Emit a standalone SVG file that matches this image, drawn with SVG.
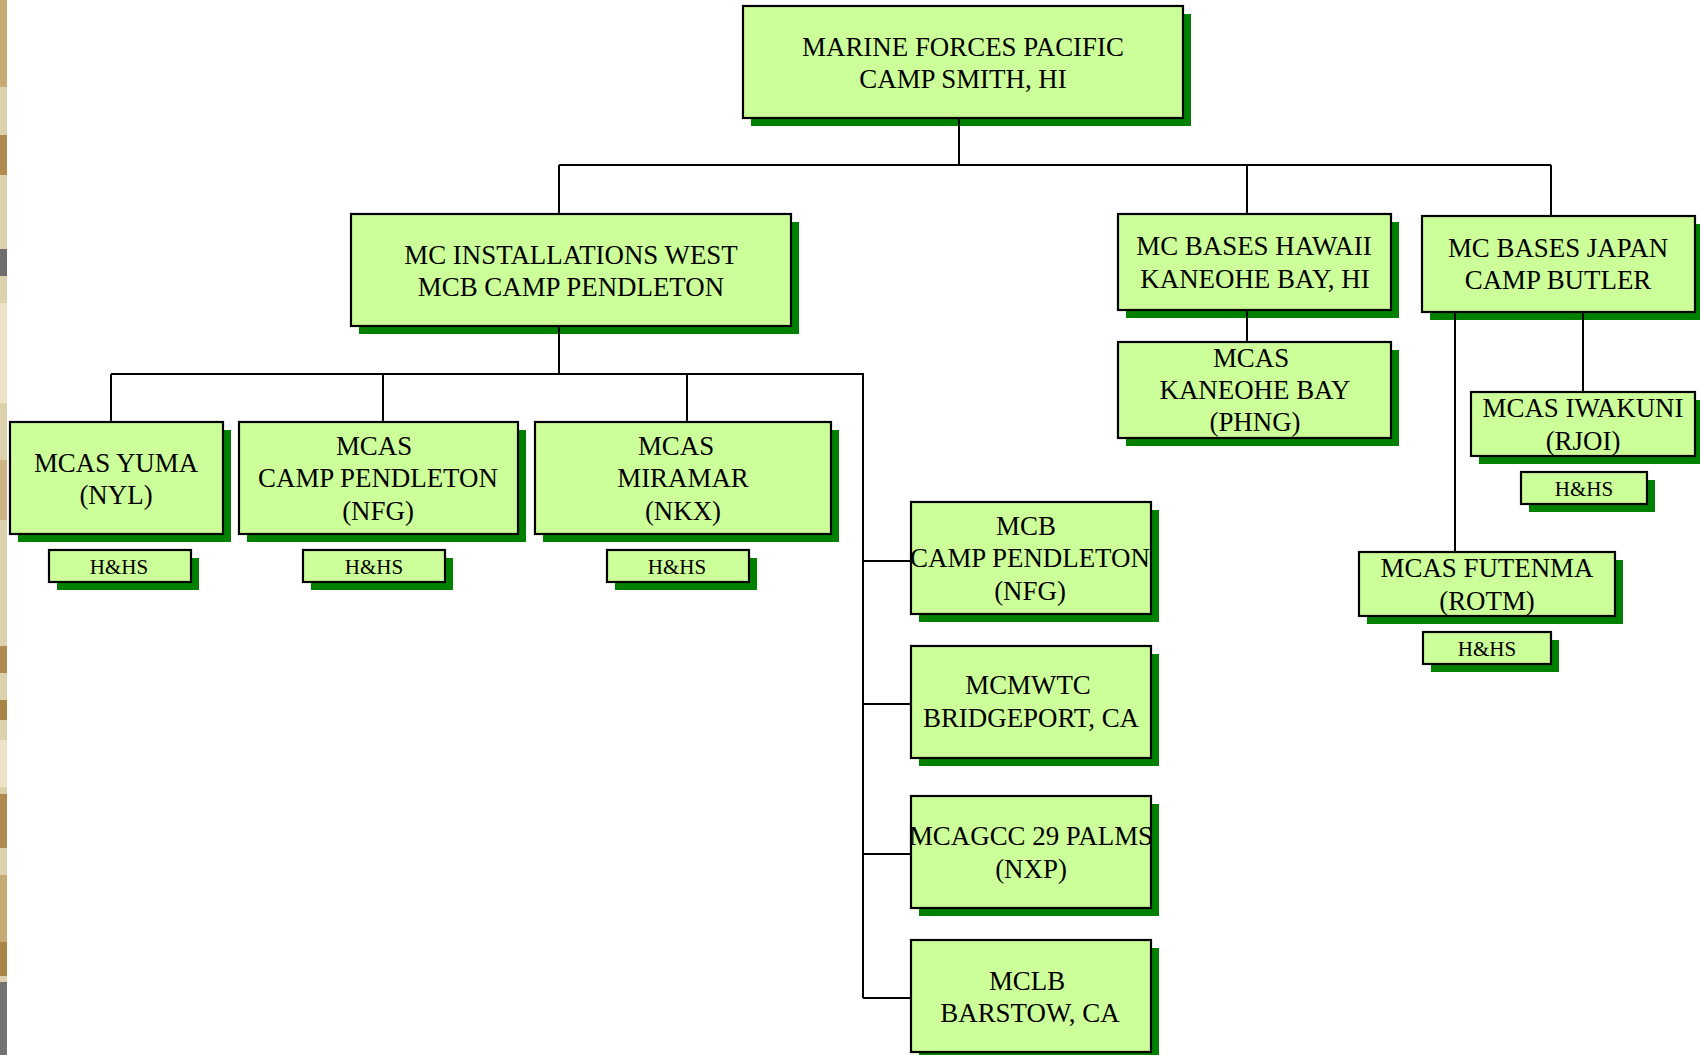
<svg xmlns="http://www.w3.org/2000/svg" width="1700" height="1055" viewBox="0 0 1700 1055">
<style>
.sh{fill:#008000}
.bx{fill:#CCFF99;stroke:#000;stroke-width:2.2}
.t{font-family:"Liberation Serif","Times New Roman",serif;font-size:26.9px;fill:#000;text-anchor:middle}
.s{font-family:"Liberation Serif","Times New Roman",serif;font-size:21px;fill:#000;text-anchor:middle}
.cn{fill:none;stroke:#000;stroke-width:2}
</style>
<rect width="1700" height="1055" fill="#fff"/>
<g id="strip">
<rect x="0" y="0" width="7" height="1055" fill="#ddd0ac"/>
<rect x="0" y="0" width="7" height="87" fill="#c8ab74"/>
<rect x="0" y="135" width="7" height="40" fill="#b08a4e"/>
<rect x="0" y="249" width="7" height="27" fill="#6e6e6e"/>
<rect x="0" y="303" width="7" height="100" fill="#ece3c8"/>
<rect x="0" y="460" width="7" height="60" fill="#cdb383"/>
<rect x="0" y="646" width="7" height="27" fill="#b08a4e"/>
<rect x="0" y="700" width="7" height="20" fill="#a98447"/>
<rect x="0" y="740" width="7" height="47" fill="#ece3c8"/>
<rect x="0" y="794" width="7" height="54" fill="#b08a4e"/>
<rect x="0" y="875" width="7" height="67" fill="#c8ab74"/>
<rect x="0" y="942" width="7" height="34" fill="#a98447"/>
<rect x="0" y="982" width="7" height="73" fill="#727272"/>
</g>
<g id="n-top"><rect class="sh" x="751" y="14" width="440" height="112"/><rect class="bx" x="743" y="6" width="440" height="112"/><text class="t" x="963" y="56">MARINE FORCES PACIFIC</text><text class="t" x="963" y="88">CAMP SMITH, HI</text></g>
<g id="n-inst"><rect class="sh" x="359" y="222" width="440" height="112"/><rect class="bx" x="351" y="214" width="440" height="112"/><text class="t" x="571" y="264">MC INSTALLATIONS WEST</text><text class="t" x="571" y="296">MCB CAMP PENDLETON</text></g>
<g id="n-hawaii"><rect class="sh" x="1126" y="222" width="273" height="96"/><rect class="bx" x="1118" y="214" width="273" height="96"/><text class="t" x="1254" y="255">MC BASES HAWAII</text><text class="t" x="1255" y="288">KANEOHE BAY, HI</text></g>
<g id="n-japan"><rect class="sh" x="1430" y="224" width="273" height="96"/><rect class="bx" x="1422" y="216" width="273" height="96"/><text class="t" x="1558" y="257">MC BASES JAPAN</text><text class="t" x="1558" y="289">CAMP BUTLER</text></g>
<g id="n-kaneohe"><rect class="sh" x="1126" y="350" width="273" height="96"/><rect class="bx" x="1118" y="342" width="273" height="96"/><text class="t" x="1251" y="367">MCAS</text><text class="t" x="1255" y="399">KANEOHE BAY</text><text class="t" x="1255" y="431">(PHNG)</text></g>
<g id="n-iwakuni"><rect class="sh" x="1479" y="400" width="224" height="64"/><rect class="bx" x="1471" y="392" width="224" height="64"/><text class="t" x="1583" y="417">MCAS IWAKUNI</text><text class="t" x="1583" y="450">(RJOI)</text></g>
<g id="n-iwakuni-hhs"><rect class="sh" x="1529" y="480" width="126" height="32"/><rect class="bx" x="1521" y="472" width="126" height="32"/><text class="s" x="1584" y="496">H&amp;HS</text></g>
<g id="n-futenma"><rect class="sh" x="1367" y="560" width="256" height="64"/><rect class="bx" x="1359" y="552" width="256" height="64"/><text class="t" x="1487" y="577">MCAS FUTENMA</text><text class="t" x="1487" y="610">(ROTM)</text></g>
<g id="n-futenma-hhs"><rect class="sh" x="1431" y="640" width="128" height="32"/><rect class="bx" x="1423" y="632" width="128" height="32"/><text class="s" x="1487" y="656">H&amp;HS</text></g>
<g id="n-yuma"><rect class="sh" x="18" y="430" width="213" height="112"/><rect class="bx" x="10" y="422" width="213" height="112"/><text class="t" x="116" y="472">MCAS YUMA</text><text class="t" x="116" y="504">(NYL)</text></g>
<g id="n-yuma-hhs"><rect class="sh" x="57" y="558" width="142" height="32"/><rect class="bx" x="49" y="550" width="142" height="32"/><text class="s" x="119" y="574">H&amp;HS</text></g>
<g id="n-mcascp"><rect class="sh" x="247" y="430" width="279" height="112"/><rect class="bx" x="239" y="422" width="279" height="112"/><text class="t" x="374" y="455">MCAS</text><text class="t" x="378" y="487">CAMP PENDLETON</text><text class="t" x="378" y="520">(NFG)</text></g>
<g id="n-mcascp-hhs"><rect class="sh" x="311" y="558" width="142" height="32"/><rect class="bx" x="303" y="550" width="142" height="32"/><text class="s" x="374" y="574">H&amp;HS</text></g>
<g id="n-miramar"><rect class="sh" x="543" y="430" width="296" height="112"/><rect class="bx" x="535" y="422" width="296" height="112"/><text class="t" x="676" y="455">MCAS</text><text class="t" x="683" y="487">MIRAMAR</text><text class="t" x="683" y="520">(NKX)</text></g>
<g id="n-miramar-hhs"><rect class="sh" x="615" y="558" width="142" height="32"/><rect class="bx" x="607" y="550" width="142" height="32"/><text class="s" x="677" y="574">H&amp;HS</text></g>
<g id="n-mcb"><rect class="sh" x="919" y="510" width="240" height="112"/><rect class="bx" x="911" y="502" width="240" height="112"/><text class="t" x="1026" y="535">MCB</text><text class="t" x="1030" y="567">CAMP PENDLETON</text><text class="t" x="1030" y="600">(NFG)</text></g>
<g id="n-mcmwtc"><rect class="sh" x="919" y="654" width="240" height="112"/><rect class="bx" x="911" y="646" width="240" height="112"/><text class="t" x="1028" y="694">MCMWTC</text><text class="t" x="1031" y="727">BRIDGEPORT, CA</text></g>
<g id="n-mcagcc"><rect class="sh" x="919" y="804" width="240" height="112"/><rect class="bx" x="911" y="796" width="240" height="112"/><text class="t" x="1031" y="845">MCAGCC 29 PALMS</text><text class="t" x="1031" y="878">(NXP)</text></g>
<g id="n-mclb"><rect class="sh" x="919" y="948" width="240" height="112"/><rect class="bx" x="911" y="940" width="240" height="112"/><text class="t" x="1027" y="990">MCLB</text><text class="t" x="1030" y="1022">BARSTOW, CA</text></g>
<g id="connectors" class="cn">
<path d="M959 118V165M559 165H1551M559 165V214M1247 165V214M1551 165V216"/>
<path d="M559 326V374M111 374H863V998M111 374V422M383 374V422M687 374V422"/>
<path d="M863 561H911M863 704H911M863 854H911M863 998H911"/>
<path d="M1247 310V342M1455 312V552M1583 312V392"/>
</g>
</svg>
